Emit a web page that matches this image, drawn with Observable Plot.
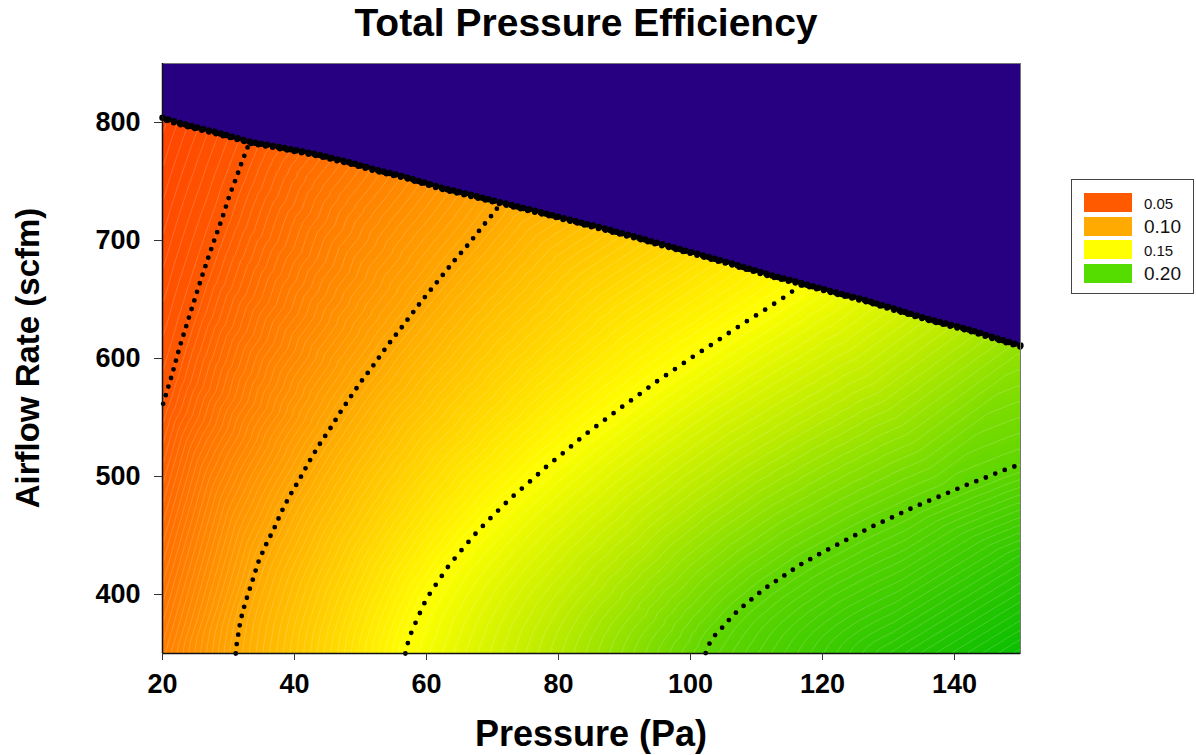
<!DOCTYPE html>
<html>
<head>
<meta charset="utf-8">
<script src="https://cdn.jsdelivr.net/npm/d3@7"></script>
<script src="https://cdn.jsdelivr.net/npm/@observablehq/plot@0.6"></script>
<style>
  body { margin: 0; background: #fff; }
  #wrap { position: relative; width: 1196px; height: 755px; font-family: "Liberation Sans", Arial, sans-serif; }
  #wrap svg { position: absolute; left: 0; top: 0; }
  .title { position: absolute; left: 0; width: 1172px; top: 1px; text-align: center; font-weight: bold; font-size: 39px; }
  .xlab { position: absolute; left: 162px; width: 858px; top: 713px; text-align: center; font-weight: bold; font-size: 36px; }
  .ylab { position: absolute; left: 28px; top: 358px; transform: translate(-50%, -50%) rotate(-90deg); white-space: nowrap; font-weight: bold; font-size: 33px; }
  .legend { position: absolute; left: 1071px; top: 179px; width: 123px; height: 115px; border: 1px solid #444; box-sizing: border-box; background: #fff; }
  .legend .row { position: absolute; left: 12px; height: 19px; }
  .legend .sw { position: absolute; left: 0; top: 0; width: 48px; height: 19px; }
  .legend .lb { position: absolute; left: 60px; top: 50%; transform: translateY(-50%); white-space: nowrap; color: #111; }
</style>
</head>
<body>
<div id="wrap"></div>
<script>
// ---- Data ----
const titleText = "Total Pressure Efficiency";
const xLabel = "Pressure (Pa)";
const yLabel = "Airflow Rate (scfm)";
const pressureTicks = [20, 40, 60, 80, 100, 120, 140];
const airflowTicks = [400, 500, 600, 700, 800];

// efficiency contour levels and their traced points [pressure, airflow]
const contourLevels = [0.05, 0.10, 0.15, 0.20];
const level05 = [[20.1,561.6],[21.3,583.6],[22.7,611.5],[24.3,640],[25.9,668.2],[27.6,696.4],[29.0,718.2],[30.2,739],[31.2,753.4],[32.1,767.6],[32.6,774.6],[33.1,782]];
const level10 = [[31.1,350],[31.2,356.3],[31.8,377.5],[32.5,392.2],[33.7,413],[34.5,427.2],[35.6,441.3],[36.9,455.7],[38.0,469.8],[39.3,483.9],[40.8,498],[42.2,512.4],[43.7,526.5],[45.4,540.6],[47.0,555],[48.7,569.2],[50.5,583.6],[51.5,590.7],[54.2,611.9],[56.2,626.1],[59.1,647.5],[62.2,669],[64.3,683.5],[66.4,697.1],[68.4,711.3],[70.6,726.2],[71.0,731]];
const level15 = [[56.8,350],[56.9,354.2],[57.7,367.8],[58.8,381.9],[60.0,396.5],[61.7,410.7],[63.4,424.6],[65.5,438.9],[67.7,453.3],[70.2,467.6],[72.8,481.8],[75.6,495.4],[78.3,509],[81.1,521.7],[83.7,534.1],[86.5,545.9],[89.3,557.7],[92.0,568.6],[94.8,580.2],[97.6,590.9],[100.4,601.6],[103.2,611.8],[105.9,622],[108.6,631.8],[111.4,641.7],[114.1,651.6],[116.6,661.5],[117.0,663]];
const level20 = [[102.3,350.4],[102.8,357.7],[103.6,364.8],[104.8,371.9],[105.9,378.9],[107.1,385.9],[108.5,392.5],[111.2,404.9],[114.0,415.3],[116.7,425.5],[119.5,434.2],[122.4,442.7],[125.1,450.7],[127.8,458.3],[130.6,465.5],[133.3,472.6],[136.1,479.4],[138.9,485.9],[141.7,492.6],[144.5,498.6],[147.2,504.8],[150,510.3]];
// estimated efficiency at the corners / edges [pressure, airflow, efficiency]
const edgeValues = [[20,350,0.075],[20,804,0.033],[20,850,0.03],[150,850,0.19],[150,611,0.185],[150,350,0.245],[130,350,0.228],[150,430,0.225]];
// upper operating limit of the fan [pressure, airflow]
const limitCurve = [[20,804],[23.2,798.6],[28.3,791.5],[33.4,783.5],[38.4,778.5],[43.4,773],[48.5,766],[52,760.5],[57.1,753.4],[62.1,745],[67.2,738],[72.2,731],[77.3,724],[82.3,716.8],[87.4,709.5],[91.4,703.5],[96.5,695.6],[101.5,688],[106.6,680],[111.6,671.6],[116.7,664],[121.7,656.5],[126.8,649],[131.8,640.6],[136.9,632.1],[141.9,625.1],[147,616],[150,611]];
// legend
const legendLabels = ["0.05", "0.10", "0.15", "0.20"];
const legendColors = ["#ff5a00", "#ffaa00", "#ffff00", "#55dd00"];
const legendSizes = [15, 19, 15, 19];
// colour ramp
const colorStops = [0.03, 0.05, 0.075, 0.10, 0.125, 0.15, 0.175, 0.20, 0.25];
const colorRamp = ["#ff4000", "#ff5800", "#ff8000", "#ffa800", "#ffd200", "#ffff00", "#b8ea00", "#60d600", "#00bb00"];

// ---- Build ----
const lines = [level05, level10, level15, level20];
const field = [];
lines.forEach((ln, i) => ln.forEach(([p, a]) => field.push({p, a, v: contourLevels[i]})));
edgeValues.forEach(([p, a, v]) => field.push({p, a, v}));

const ramp = d3.scaleLinear().domain(colorStops).range(colorRamp).clamp(true);
const vmin = colorStops[0], vmax = colorStops[colorStops.length - 1];

const dotSpacing = [9, 9.5, 10.8, 10.2];
const font = "'Liberation Sans', Arial, sans-serif";

const chart = Plot.plot({
  width: 1196,
  height: 755,
  marginTop: 63,
  marginRight: 176,
  marginBottom: 102,
  marginLeft: 162,
  style: {fontFamily: font, fontWeight: "bold", fontSize: "27px", color: "#000", background: "transparent"},
  x: {domain: [20, 150], label: null},
  y: {domain: [350, 850], label: null},
  color: {type: "linear", domain: [vmin, vmax], interpolate: t => ramp(vmin + t * (vmax - vmin))},
  marks: [
    Plot.raster(field, {x: "p", y: "a", fill: "v", interpolate: "barycentric", pixelSize: 1}),
    Plot.contour(field, {x: "p", y: "a", value: "v", interpolate: "barycentric", pixelSize: 2, thresholds: 110, fill: "none", stroke: "white", strokeOpacity: 0.3, strokeWidth: 0.6}),
    Plot.areaY(limitCurve, {x: d => d[0], y1: d => d[1], y2: () => 850, fill: "#260080"}),
    ...lines.map((ln, i) => Plot.line(ln, {x: d => d[0], y: d => d[1], stroke: "black", strokeWidth: 4.8, strokeDasharray: `0 ${dotSpacing[i]}`, strokeLinecap: "round"})),
    Plot.line(limitCurve, {x: d => d[0], y: d => d[1], stroke: "black", strokeWidth: 6.5, strokeDasharray: "0 6", strokeLinecap: "round"}),
    Plot.line(limitCurve, {x: d => d[0], y: d => d[1], dy: 1.5, stroke: "black", strokeWidth: 5.5, strokeDasharray: "0 7.3", strokeDashoffset: 3, strokeLinecap: "round"}),
    Plot.frame({stroke: "#777", strokeWidth: 1}),
    Plot.ruleX([20], {stroke: "#111", strokeWidth: 1.5}),
    Plot.ruleY([350], {stroke: "#111", strokeWidth: 1.5}),
    Plot.axisX({ticks: pressureTicks, tickSize: 7, tickPadding: 13, label: null, stroke: "#333"}),
    Plot.axisY({ticks: airflowTicks, tickSize: 8, tickPadding: 14, label: null, stroke: "#333"})
  ]
});

const wrap = document.getElementById("wrap");
wrap.appendChild(chart);

const t = document.createElement("div"); t.className = "title"; t.textContent = titleText; wrap.appendChild(t);
const xl = document.createElement("div"); xl.className = "xlab"; xl.textContent = xLabel; wrap.appendChild(xl);
const yl = document.createElement("div"); yl.className = "ylab"; yl.textContent = yLabel; wrap.appendChild(yl);

const lg = document.createElement("div"); lg.className = "legend";
const rowTops = [13, 37, 60, 84];
legendLabels.forEach((lab, i) => {
  const r = document.createElement("div"); r.className = "row"; r.style.top = rowTops[i] + "px";
  const sw = document.createElement("div"); sw.className = "sw"; sw.style.background = legendColors[i];
  const lb = document.createElement("div"); lb.className = "lb"; lb.textContent = lab; lb.style.fontSize = legendSizes[i] + "px";
  r.appendChild(sw); r.appendChild(lb); lg.appendChild(r);
});
wrap.appendChild(lg);
</script>
</body>
</html>
